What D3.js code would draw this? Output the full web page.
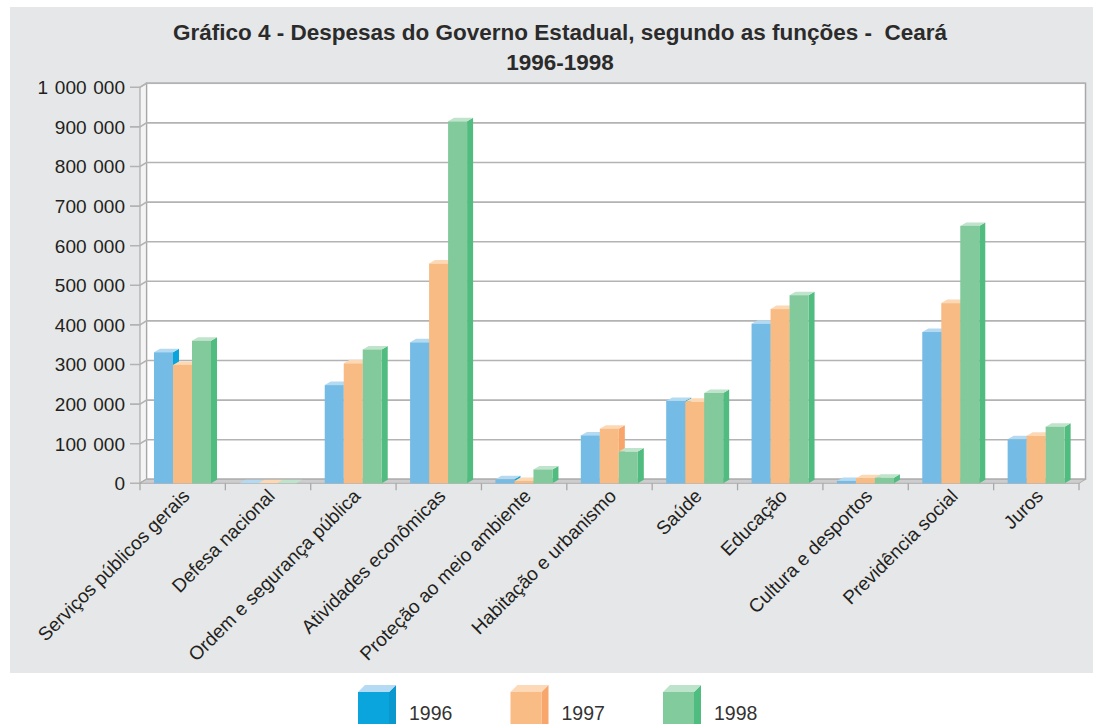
<!DOCTYPE html>
<html><head><meta charset="utf-8">
<script src="https://cdn.jsdelivr.net/npm/d3@7"></script>
<style>body{margin:0;background:#fff}svg{display:block}text{font-family:"Liberation Sans",Arial,sans-serif;white-space:pre}</style>
</head><body><svg id="c" width="1093" height="724"></svg>
<script>
const titleLines = ["Gráfico 4 - Despesas do Governo Estadual, segundo as funções -  Ceará", "1996-1998"];
const categories = ["Serviços públicos gerais","Defesa nacional","Ordem e segurança pública","Atividades econômicas","Proteção ao meio ambiente","Habitação e urbanismo","Saúde","Educação","Cultura e desportos","Previdência social","Juros"];
const years = ["1996","1997","1998"];
const v1996 = [331000, 0, 248000, 356000, 10000, 121000, 208000, 403000, 6000, 382000, 111000];
const v1997 = [299000, 0, 303000, 555000, 6000, 138000, 206000, 440000, 13000, 455000, 120000];
const v1998 = [360000, 0, 338000, 914000, 35000, 80000, 228000, 475000, 14000, 650000, 143000];
const yTicks = [0,100000,200000,300000,400000,500000,600000,700000,800000,900000,1000000];
const yTickLabels = ["0","100 000","200 000","300 000","400 000","500 000","600 000","700 000","800 000","900 000","1 000 000"];

const series = [v1996, v1997, v1998];
const barColors = [
  {front:"#74BBE6", side:"#0AA4DC", top:"#B4DAF2"},
  {front:"#F9BB84", side:"#F8A46A", top:"#FCD8B5"},
  {front:"#82CA9B", side:"#50BC7F", top:"#BFE3CB"}
];
const legendColors = [
  {front:"#0AA5DD", side:"#0A98CF", top:"#B5DAF3"},
  {front:"#F9BC85", side:"#F8A66B", top:"#FDD9B7"},
  {front:"#82CB9C", side:"#50BD80", top:"#BEE3CB"}
];

const svg = d3.select("#c");
svg.append("rect").attr("x",10).attr("y",7).attr("width",1083).attr("height",666).attr("fill","#E6E7E8");

const x0 = 140, x1 = 1079;
const x = d3.scaleBand().domain(categories).range([x0, x1]).padding(0);
const xs = d3.scaleBand().domain(years).range([14, 71]).padding(0);
const y = d3.scaleLinear().domain([0, 1000000]).range([483.3, 87.3]);
const dx = 6.5, dy = -4;
const bdx = 6, bdy = -3.5;
const yMax = y(1000000), yZero = y(0);

// back wall
svg.append("rect").attr("x", x0+dx).attr("y", yMax+dy).attr("width", x1-x0).attr("height", yZero-yMax)
  .attr("fill","#fff").attr("stroke","#A8A8A8").attr("stroke-width",1.5);
// left wall
svg.append("polygon").attr("points", [[x0,yZero],[x0,yMax],[x0+dx,yMax+dy],[x0+dx,yZero+dy]].join(" "))
  .attr("fill","#F4F4F4").attr("stroke","#A8A8A8").attr("stroke-width",1.2);
// gridlines
yTicks.forEach(t => {
  const yy = y(t);
  svg.append("polyline").attr("points", [[x0-10,yy],[x0,yy],[x0+dx,yy+dy],[x1+dx,yy+dy]].join(" "))
    .attr("fill","none").attr("stroke","#B3B3B3").attr("stroke-width",1.6);
});
// floor
svg.append("polygon").attr("points", [[x0,yZero],[x1,yZero],[x1+dx,yZero+dy],[x0+dx,yZero+dy]].join(" "))
  .attr("fill","#CDCDCF").attr("stroke","#ADADAD").attr("stroke-width",1);
// y labels
svg.append("g").selectAll("text").data(yTicks).join("text")
  .attr("x", 125).attr("y", d => y(d) + 6.8).attr("text-anchor","end")
  .attr("font-size", 19).attr("word-spacing", 1.5).attr("fill","#231F20")
  .text((d,i) => yTickLabels[i]);
// x ticks
const bounds = categories.map(c => x(c)).concat([x1]);
svg.append("g").selectAll("line").data(bounds).join("line")
  .attr("x1", d=>d).attr("x2", d=>d).attr("y1", yZero).attr("y2", yZero+7)
  .attr("stroke","#A8A8A8").attr("stroke-width",1.3);

// bars
categories.forEach((c, ci) => {
  series.forEach((vals, si) => {
    const bx = x(c) + xs(years[si]);
    const w = xs.bandwidth();
    const top = y(vals[ci]);
    const col = barColors[si];
    const g = svg.append("g");
    g.append("polygon").attr("points", [[bx+w,top],[bx+w+bdx,top+bdy],[bx+w+bdx,yZero+bdy],[bx+w,yZero]].join(" ")).attr("fill", col.side);
    g.append("polygon").attr("points", [[bx,top],[bx+bdx,top+bdy],[bx+w+bdx,top+bdy],[bx+w,top]].join(" ")).attr("fill", col.top);
    g.append("rect").attr("x", bx).attr("y", top).attr("width", w).attr("height", Math.max(0, yZero-top)).attr("fill", col.front);
  });
});

// x labels
svg.append("g").selectAll("text").data(categories).join("text")
  .attr("transform", d => `translate(${x(d)+x.bandwidth()/2+8},${yZero+14}) rotate(-45)`)
  .attr("text-anchor","end").attr("font-size",19).attr("fill","#231F20").text(d=>d);

// title
svg.append("g").selectAll("text").data(titleLines).join("text")
  .attr("x", 560).attr("y", (d,i) => 40 + i*29.5).attr("text-anchor","middle")
  .attr("font-size", 22.5).attr("font-weight","bold").attr("fill","#2B2B2B").text(d=>d);

// legend
const lx = d3.scaleBand().domain(years).range([358, 358+152.5*3]);
years.forEach((yr, i) => {
  const lxx = lx(yr), ly = 692, w = 31, h = 40, ddx = 7, ddy = -7;
  const col = legendColors[i];
  const g = svg.append("g");
  g.append("polygon").attr("points", [[lxx+w,ly],[lxx+w+ddx,ly+ddy],[lxx+w+ddx,ly+h+ddy],[lxx+w,ly+h]].join(" ")).attr("fill", col.side);
  g.append("polygon").attr("points", [[lxx,ly],[lxx+ddx,ly+ddy],[lxx+w+ddx,ly+ddy],[lxx+w,ly]].join(" ")).attr("fill", col.top);
  g.append("rect").attr("x", lxx).attr("y", ly).attr("width", w).attr("height", h).attr("fill", col.front);
  g.append("text").attr("x", lxx+51).attr("y", 720).attr("font-size", 19.5).attr("fill","#333").text(yr);
});
</script></body></html>
